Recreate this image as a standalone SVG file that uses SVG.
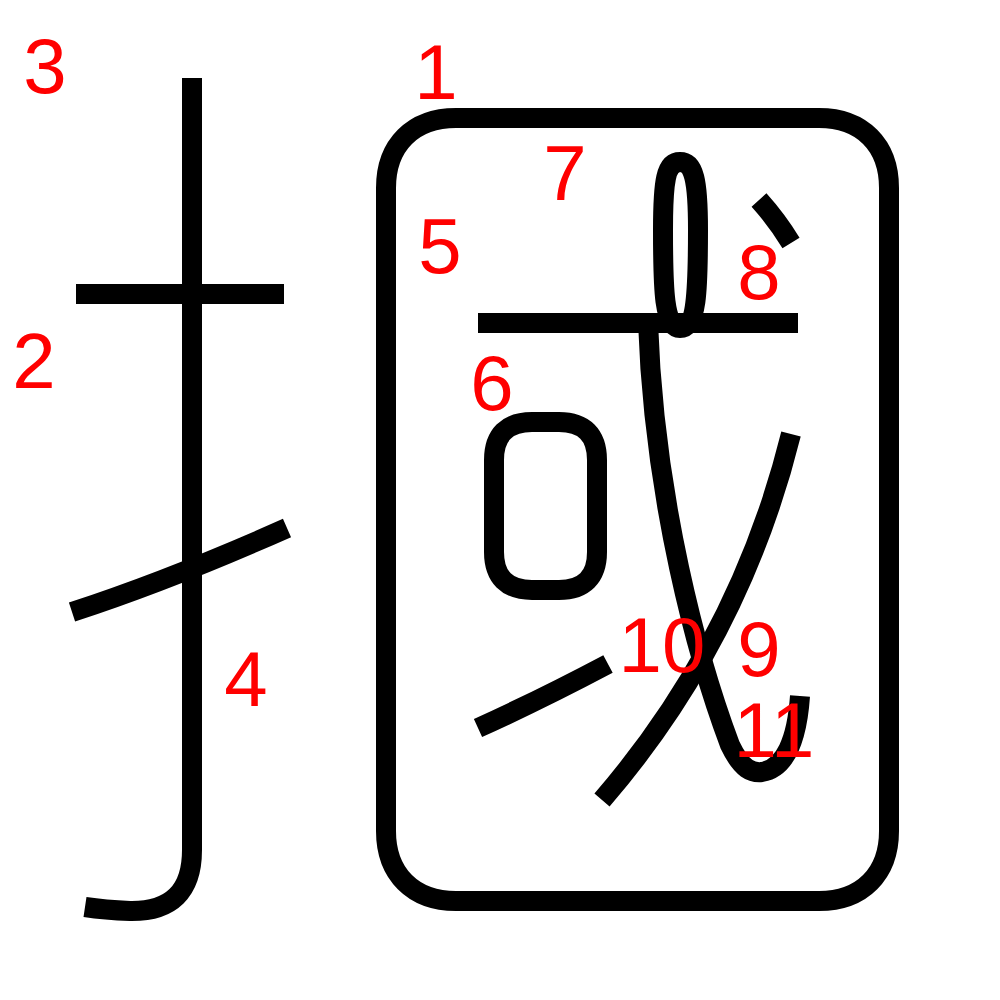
<svg xmlns="http://www.w3.org/2000/svg" width="1000" height="1000" viewBox="0 0 1000 1000">
<style>
.s{fill:none;stroke:#000;stroke-width:20;stroke-linecap:butt;stroke-linejoin:round}
.n{fill:#ff0000;font-family:"Liberation Sans",Arial,Helvetica,sans-serif;font-size:78px;text-anchor:middle}
</style>
<rect width="1000" height="1000" fill="#fff"/>
<g id="strokes">
<path id="s1" class="s" d="M456,118 H819 C862,118 889,145 889,188 V831 C889,874 862,901 819,901 H456 C413,901 386,874 386,831 V188 C386,145 413,118 456,118 Z"/>
<path id="s2" class="s" d="M76,294 L284,294"/>
<path id="s3" class="s" d="M192,78 L192,850 Q192,912 130,911 Q105,910 85,907"/>
<path id="s4" class="s" d="M72,612 Q170,580 287,528"/>
<path id="s5" class="s" d="M478,323 L798,323"/>
<path id="s6" class="s" d="M532,422 H559 C584,422 597,435 597,460 V552 C597,577 584,590 559,590 H532 C507,590 494,577 494,552 V460 C494,435 507,422 532,422 Z"/>
<path id="s7" class="s" d="M680,328 C697,328 698,290 698,230 C698,180 694,162 680,162 C666,162 663,180 663,230 C663,290 664,328 680,328 Z"/>
<path id="s8" class="s" d="M759,200 Q777,220 791,243"/>
<path id="s9" class="s" d="M791,434 Q740,640 602,800"/>
<path id="s10" class="s" d="M648,322 C654,500 698,660 730,745 C742,770 752,773 762,772 C785,768 797,740 800,696"/>
<path id="s11" class="s" d="M478,728 Q540,700 608,664"/>
</g>
<g id="labels">
<text class="n" x="436" y="99">1</text>
<text class="n" x="34" y="388">2</text>
<text class="n" x="45" y="93">3</text>
<text class="n" x="246" y="706">4</text>
<text class="n" x="440" y="273">5</text>
<text class="n" x="492" y="410">6</text>
<text class="n" x="565" y="200">7</text>
<text class="n" x="759" y="299">8</text>
<text class="n" x="759" y="676">9</text>
<text class="n" x="662" y="672">10</text>
<text class="n" x="774" y="757">11</text>
</g>
</svg>
